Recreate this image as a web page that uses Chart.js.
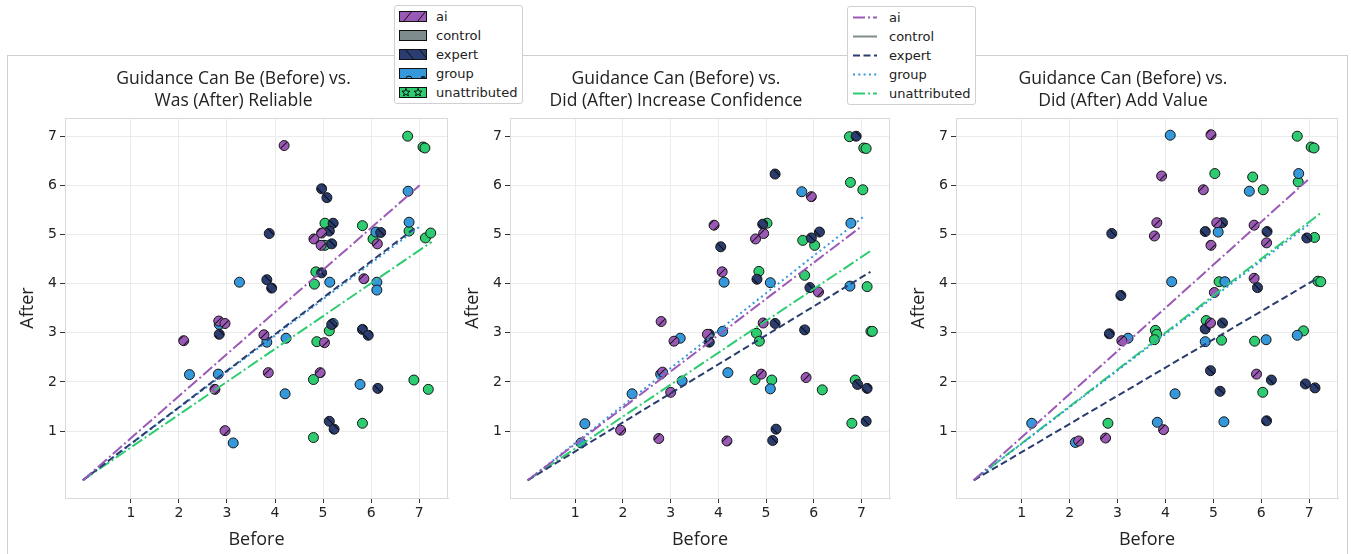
<!DOCTYPE html>
<html>
<head>
<meta charset="utf-8">
<script src="https://cdn.jsdelivr.net/npm/chart.js@4.4.0/dist/chart.umd.min.js"></script>
<style>
  body { margin: 0; background: #fff; width: 1351px; height: 554px; overflow: hidden; position: relative; font-family: "DejaVu Sans", sans-serif; }
  .frame { position: absolute; left: 7px; top: 55px; width: 1341px; height: 520px; border: 1px solid #cfcfcf; box-sizing: border-box; }
  .panel { position: absolute; top: 0; height: 554px; }
  .title { position: absolute; top: 66px; text-align: center; font-family: "Open Sans", sans-serif; font-size: 17.5px; line-height: 22px; color: #222; }
  .legend { position: absolute; background: #fff; border: 1px solid #d0d0d0; border-radius: 3px; font-size: 13px; color: #222; }
  .legend .row { position: absolute; left: 0; height: 19px; line-height: 19px; white-space: nowrap; }
  .legend canvas { position: absolute; top: 0; }
  .legend span { position: absolute; top: 0; }
</style>
</head>
<body>
<div class="frame"></div>
<div class="panel" style="left:9px;width:445px"><canvas id="c1"></canvas></div>
<div class="panel" style="left:454px;width:442px"><canvas id="c2"></canvas></div>
<div class="panel" style="left:900px;width:444px"><canvas id="c3"></canvas></div>
<div class="title" style="left:42px;width:383px">Guidance Can Be (Before) vs.<br>Was (After) Reliable</div>
<div class="title" style="left:486px;width:380px">Guidance Can (Before) vs.<br>Did (After) Increase Confidence</div>
<div class="title" style="left:932px;width:382px">Guidance Can (Before) vs.<br>Did (After) Add Value</div>
<div class="legend" id="patchLegend" style="left:394px;top:5px;width:127px;height:97px"></div>
<div class="legend" id="lineLegend" style="left:847px;top:6px;width:127px;height:97px"></div>
<script>
// groups and ticks
const groups = ['ai', 'control', 'expert', 'group', 'unattributed'];
const tickValues = [1, 2, 3, 4, 5, 6, 7];

// panel 1: reliable
const reliableAi = [[4.19,6.81],[4.81,4.91],[4.97,5.03],[4.96,4.78],[5.85,4.1],[6.13,4.81],[2.83,3.24],[2.96,3.19],[2.1,2.84],[3.77,2.96],[5.03,2.8],[3.86,2.19],[4.94,2.19],[2.75,1.85],[2.96,1.01]];
const reliableExpert = [[4.97,5.93],[5.08,5.75],[3.88,5.02],[5.21,5.23],[5.13,5.07],[5.18,4.81],[6.2,5.04],[3.83,4.08],[3.93,3.91],[4.97,4.22],[2.84,2.97],[5.18,3.17],[5.82,3.07],[5.94,2.95],[6.14,1.87],[5.13,1.2],[5.23,1.04]];
const reliableGroup = [[6.77,5.88],[6.1,5.05],[6.79,5.25],[3.26,4.03],[5.14,4.03],[6.12,4.03],[6.12,3.87],[2.84,3.17],[3.83,2.81],[4.23,2.89],[5.21,3.19],[2.22,2.15],[2.82,2.16],[4.21,1.76],[5.77,1.95],[3.13,0.76]];
const reliableUnattr = [[6.76,7.0],[7.08,6.78],[7.12,6.76],[5.04,5.23],[5.04,4.78],[5.82,5.18],[6.04,4.91],[6.79,5.07],[7.13,4.93],[7.24,5.03],[4.85,4.24],[4.82,3.99],[5.13,3.04],[4.87,2.82],[4.8,2.05],[6.89,2.04],[7.19,1.85],[5.82,1.16],[4.8,0.87]];
const reliableFitEnds = { ai: [7.01,6.0], expert: [6.95,5.16], group: [7.05,5.19], unattributed: [7.26,4.85] };

// panel 2: confidence
const confAi = [[3.91,5.19],[4.78,4.91],[4.95,5.02],[5.95,5.77],[4.08,4.24],[6.1,3.83],[2.8,3.23],[3.07,2.83],[3.77,2.97],[4.94,3.2],[2.83,2.2],[3.0,1.79],[4.9,2.16],[5.84,2.09],[1.95,1.02],[2.75,0.85],[4.18,0.8]];
const confExpert = [[6.89,7.0],[5.19,6.23],[4.93,5.21],[4.05,4.75],[5.95,4.93],[6.12,5.05],[4.81,4.09],[5.92,3.92],[3.81,2.97],[3.81,2.81],[5.19,3.19],[5.81,3.06],[6.92,1.95],[7.12,1.87],[5.21,1.04],[5.14,0.81],[7.1,1.2]];
const confGroup = [[5.75,5.87],[6.78,5.23],[4.12,4.03],[5.09,4.02],[6.76,3.95],[3.2,2.89],[4.09,3.03],[2.79,2.16],[3.24,2.02],[2.19,1.76],[4.2,2.19],[5.09,1.86],[1.2,1.15],[1.12,0.76]];
const confUnattr = [[6.75,6.99],[7.05,6.76],[7.1,6.75],[6.77,6.06],[7.03,5.91],[5.02,5.23],[5.77,4.88],[6.02,4.78],[4.85,4.25],[5.81,4.17],[7.12,3.94],[4.8,2.99],[4.86,2.83],[7.2,3.03],[7.23,3.03],[4.77,2.05],[5.12,2.04],[6.18,1.84],[6.87,2.04],[6.8,1.16]];
const confFitEnds = { ai: [6.98,5.15], expert: [7.19,4.24], group: [7.07,5.38], unattributed: [7.23,4.69] };

// panel 3: value
const valueAi = [[4.95,7.03],[3.92,6.19],[4.79,5.91],[3.82,5.24],[3.77,4.97],[5.07,5.24],[4.95,4.78],[5.85,5.19],[6.11,4.83],[5.02,3.82],[5.85,4.11],[3.09,2.84],[4.94,3.2],[5.9,2.16],[2.19,0.8],[2.75,0.86],[3.96,1.03]];
const valueExpert = [[2.88,5.02],[4.83,5.06],[5.19,5.24],[6.12,5.06],[6.95,4.93],[3.07,3.76],[5.92,3.92],[2.83,2.98],[4.83,3.08],[5.19,3.2],[4.94,2.23],[6.21,2.04],[5.14,1.81],[6.92,1.96],[7.12,1.88],[6.11,1.21]];
const valueGroup = [[4.1,7.02],[5.75,5.88],[6.78,6.24],[5.1,5.05],[4.13,4.04],[5.24,4.04],[3.22,2.89],[4.83,2.82],[6.1,2.86],[6.75,2.95],[4.2,1.76],[1.21,1.16],[2.12,0.77],[3.83,1.18],[5.22,1.19]];
const valueUnattr = [[6.75,7.0],[7.04,6.78],[7.1,6.76],[5.03,6.24],[5.82,6.17],[6.04,5.91],[6.77,6.07],[7.11,4.94],[5.12,4.04],[7.18,4.05],[7.24,4.04],[3.79,3.05],[3.82,2.97],[3.77,2.86],[4.85,3.25],[5.17,2.85],[5.86,2.83],[6.88,3.04],[6.03,1.79],[2.8,1.16]];
const valueFitEnds = { ai: [6.97,6.11], expert: [7.17,4.11], group: [7.04,5.24], unattributed: [7.23,5.43] };

const colors = { ai: '#9b59b6', control: '#7f8c8d', expert: '#2a3d6e', group: '#3498db', unattributed: '#2ecc71' };
const dashes = { ai: [12, 3, 2, 3], control: [], expert: [7, 3.5], group: [2, 3.3], unattributed: [12, 3, 2, 3] };

// hatch pattern for the ai / expert markers
function hatch(ctx, color, dir, size) {
  const c = document.createElement('canvas');
  c.width = c.height = size;
  const g = c.getContext('2d');
  g.fillStyle = color;
  g.fillRect(0, 0, size, size);
  g.strokeStyle = 'rgba(0,0,0,0.8)';
  g.lineWidth = 1.1;
  g.beginPath();
  for (let k = -1; k <= 1; k++) {
    if (dir > 0) { g.moveTo(k * size, size); g.lineTo(k * size + size, 0); }
    else { g.moveTo(k * size, 0); g.lineTo(k * size + size, size); }
  }
  g.stroke();
  return ctx.createPattern(c, 'repeat');
}

const framePlugin = {
  id: 'frame',
  beforeDatasetsDraw(chart) {
    const a = chart.chartArea, ctx = chart.ctx;
    ctx.save();
    ctx.strokeStyle = '#dadada';
    ctx.lineWidth = 1;
    ctx.strokeRect(a.left + 0.5, a.top + 0.5, a.right - a.left - 1, a.bottom - a.top);
    ctx.restore();
  }
};

function toPts(arr) { return arr.map(p => ({ x: p[0], y: p[1] })); }

function makeChart(id, sets, fitEnds, rightPad) {
  const ctx = document.getElementById(id).getContext('2d');
  const fills = {
    ai: hatch(ctx, colors.ai, 1, 10),
    expert: hatch(ctx, colors.expert, -1, 10),
    group: colors.group,
    unattributed: colors.unattributed
  };
  const datasets = [];
  ['ai', 'expert', 'group', 'unattributed'].forEach(g => {
    const e = fitEnds[g];
    datasets.push({
      label: g + ' fit', data: [{ x: 0, y: 0 }, { x: e[0], y: e[1] }],
      showLine: true, borderColor: colors[g], borderDash: dashes[g], borderWidth: 2,
      pointRadius: 0, order: 0
    });
  });
  ['ai', 'expert', 'group', 'unattributed'].forEach(g => {
    datasets.push({
      label: g, data: toPts(sets[g]),
      pointRadius: 5, pointHoverRadius: 5, pointBackgroundColor: fills[g],
      pointBorderColor: '#151515', pointBorderWidth: 1, order: 1
    });
  });
  const tickFont = { family: 'DejaVu Sans', size: 14 };
  const titleFont = { family: 'Open Sans', size: 18 };
  new Chart(ctx, {
    type: 'scatter',
    data: { datasets },
    options: {
      responsive: true, maintainAspectRatio: false, animation: false,
      layout: { padding: { top: 118, right: rightPad, left: 0, bottom: 0 } },
      plugins: { legend: { display: false }, tooltip: { enabled: false } },
      scales: {
        x: {
          type: 'linear', min: -0.37, max: 7.6,
          afterBuildTicks: s => { s.ticks = tickValues.map(v => ({ value: v })); },
          afterFit: s => { s.height = 56; },
          grid: { color: '#ebebeb', tickColor: '#333', tickLength: 5 },
          border: { color: '#dadada' },
          ticks: { font: tickFont, color: '#222', padding: 2 },
          title: { display: true, text: 'Before', font: titleFont, color: '#222', padding: { top: 0, bottom: 3 } }
        },
        y: {
          type: 'linear', min: -0.36, max: 7.37,
          afterBuildTicks: s => { s.ticks = tickValues.map(v => ({ value: v })); },
          afterFit: s => { s.width = 56; },
          grid: { color: '#ebebeb', tickColor: '#333', tickLength: 5 },
          border: { color: '#dadada' },
          ticks: { font: tickFont, color: '#222', padding: 3 },
          title: { display: true, text: 'After', font: titleFont, color: '#222', padding: { top: 8, bottom: 0 } }
        }
      }
    },
    plugins: [framePlugin]
  });
}

makeChart('c1', { ai: reliableAi, expert: reliableExpert, group: reliableGroup, unattributed: reliableUnattr }, reliableFitEnds, 6);
makeChart('c2', { ai: confAi, expert: confExpert, group: confGroup, unattributed: confUnattr }, confFitEnds, 6);
makeChart('c3', { ai: valueAi, expert: valueExpert, group: valueGroup, unattributed: valueUnattr }, valueFitEnds, 6);

// legends
function patchSwatch(g) {
  const c = document.createElement('canvas');
  c.width = 28; c.height = 11;
  const x = c.getContext('2d');
  x.fillStyle = colors[g];
  x.fillRect(0, 0, 28, 11);
  x.strokeStyle = '#111';
  x.lineWidth = 1;
  x.beginPath();
  if (g === 'ai') { x.moveTo(4, 11); x.lineTo(13, 0); x.moveTo(18, 11); x.lineTo(27, 0); }
  if (g === 'expert') { x.moveTo(6, 0); x.lineTo(15, 11); x.moveTo(20, 0); x.lineTo(29, 11); }
  if (g === 'group') { x.arc(10, 11, 3, Math.PI, 0); x.moveTo(26, 9); x.arc(24, 11, 2.5, Math.PI * 1.2, 0); }
  x.stroke();
  if (g === 'unattributed') {
    [[7, 5.5], [19, 5.5]].forEach(([cx, cy]) => {
      x.beginPath();
      for (let i = 0; i < 10; i++) {
        const r = i % 2 ? 1.8 : 4.2, a = -Math.PI / 2 + i * Math.PI / 5;
        x.lineTo(cx + r * Math.cos(a), cy + r * Math.sin(a));
      }
      x.closePath(); x.stroke();
    });
  }
  x.strokeRect(0.5, 0.5, 27, 10);
  return c;
}
function lineSwatch(g) {
  const c = document.createElement('canvas');
  c.width = 26; c.height = 11;
  const x = c.getContext('2d');
  x.strokeStyle = colors[g];
  x.lineWidth = 2;
  x.setLineDash(dashes[g]);
  x.beginPath(); x.moveTo(1, 5.5); x.lineTo(25, 5.5); x.stroke();
  return c;
}
function buildLegend(id, swatch, swLeft, textLeft) {
  const box = document.getElementById(id);
  groups.forEach((g, i) => {
    const row = document.createElement('div');
    row.className = 'row';
    row.style.top = (i * 19 + 0.5) + 'px';
    const sw = swatch(g);
    sw.style.left = swLeft + 'px';
    sw.style.top = '4px';
    const t = document.createElement('span');
    t.textContent = g;
    t.style.left = textLeft + 'px';
    row.appendChild(sw); row.appendChild(t);
    box.appendChild(row);
  });
}
buildLegend('patchLegend', patchSwatch, 4, 41);
buildLegend('lineLegend', lineSwatch, 4, 41);
</script>
</body>
</html>
